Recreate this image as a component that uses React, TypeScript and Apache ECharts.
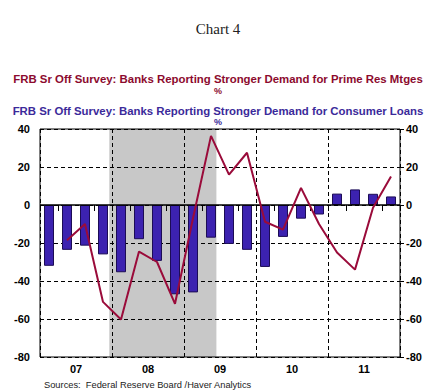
import React, { useEffect, useRef } from "react";
import * as echarts from "echarts";

const quarters = [
  "07Q1", "07Q2", "07Q3", "07Q4",
  "08Q1", "08Q2", "08Q3", "08Q4",
  "09Q1", "09Q2", "09Q3", "09Q4",
  "10Q1", "10Q2", "10Q3", "10Q4",
  "11Q1", "11Q2", "11Q3", "11Q4",
];
const yearLabels = ["07", "08", "09", "10", "11"];
const consumerLoans = [
  -32, -23.6, -21.4, -26, -35.4, -18, -29.4, -47, -46, -17.2,
  -20.5, -23.6, -32.6, -16.8, -7.2, -5, 6, 8.2, 5.9, 4.5,
];
const primeMortgages = [
  null, -18.6, -10, -51, -60.3, -24.5, -30, -52, -7, 36.4,
  16, 27.5, -8.8, -13, 9, -10, -25, -34, -1.4, 15,
];
// recession shading, in quarters from 2007Q1
const recession = [3.85, 9.8];
const yTicks = [-80, -60, -40, -20, 0, 20, 40];

const RED = "#9a0b3a";
const BLUE = "#3c22b0";
const FONT = "'Liberation Sans', Arial, sans-serif";

export default function App() {
  const ref = useRef<HTMLDivElement>(null);
  useEffect(() => {
    if (!ref.current) return;
    const chart = echarts.init(ref.current, undefined, { renderer: "svg" });
    const yMin = yTicks[0];
    const yMax = yTicks[yTicks.length - 1];
    const dashed = { color: "#000", width: 1, type: [4, 3] as any };
    const axisLabelStyle = { color: "#000", fontFamily: FONT, fontWeight: "bold" as const, fontSize: 11 };
    chart.setOption({
      animation: false,
      backgroundColor: "#fff",
      title: [
        {
          text: "Chart 4",
          left: "center",
          top: 16,
          textStyle: { fontFamily: "'Liberation Serif', 'DejaVu Serif', serif", fontWeight: "normal", fontSize: 15, color: "#222" },
        },
        {
          text: "FRB Sr Off Survey: Banks Reporting Stronger Demand for Prime Res Mtges",
          left: "center",
          top: 68,
          textStyle: { fontFamily: FONT, fontWeight: "bold", fontSize: 11.4, color: "#8c0a2e" },
        },
        {
          text: "%",
          left: "center",
          top: 81,
          textStyle: { fontFamily: FONT, fontWeight: "bold", fontSize: 9, color: "#8c0a2e" },
        },
        {
          text: "FRB Sr Off Survey: Banks Reporting Stronger Demand for Consumer Loans",
          left: "center",
          top: 100,
          textStyle: { fontFamily: FONT, fontWeight: "bold", fontSize: 11.4, color: "#3b2a9a" },
        },
        {
          text: "%",
          left: "center",
          top: 112,
          textStyle: { fontFamily: FONT, fontWeight: "bold", fontSize: 9, color: "#3b2a9a" },
        },
        {
          text: "Sources:  Federal Reserve Board /Haver Analytics",
          left: 39,
          top: 375,
          textStyle: { fontFamily: FONT, fontWeight: "normal", fontSize: 9.3, color: "#222" },
        },
      ],
      grid: {
        left: 40,
        right: 36,
        top: 129,
        bottom: 35,
        show: true,
        borderColor: "#000",
        borderWidth: 1,
        backgroundColor: "transparent",
      },
      xAxis: [
        {
          type: "category",
          data: quarters,
          boundaryGap: true,
          position: "bottom",
          axisLine: { show: false },
          axisTick: {
            show: true,
            length: 6,
            lineStyle: { color: "#000" },
            interval: (i: number) => i % 4 !== 2,
          },
          axisLabel: { show: false },
          splitLine: { show: false },
        },
        {
          type: "category",
          data: yearLabels,
          boundaryGap: true,
          position: "bottom",
          axisLine: { show: false },
          axisTick: { show: false },
          axisLabel: { ...axisLabelStyle, margin: 6, interval: 0 },
          splitLine: { show: true, interval: 0, lineStyle: dashed },
        },
        { type: "value", min: 0, max: quarters.length, show: false },
      ],
      yAxis: [
        {
          type: "value",
          min: yMin,
          max: yMax,
          interval: 20,
          position: "left",
          axisLine: { show: false },
          axisTick: { show: false },
          axisLabel: { ...axisLabelStyle, margin: 10 },
          splitLine: { show: true, lineStyle: dashed },
        },
        {
          type: "value",
          min: yMin,
          max: yMax,
          interval: 20,
          position: "right",
          axisLine: { show: false },
          axisTick: { show: true, length: 4, lineStyle: { color: "#000" } },
          axisLabel: { ...axisLabelStyle, margin: 6 },
          splitLine: { show: false },
        },
      ],
      series: [
        {
          type: "line",
          xAxisIndex: 2,
          yAxisIndex: 0,
          data: [],
          z: -1,
          silent: true,
          markArea: {
            z: -1,
            silent: true,
            itemStyle: { color: "#c8c8c8", opacity: 1 },
            data: [[{ xAxis: recession[0] }, { xAxis: recession[1] }]],
          },
        },
        {
          type: "bar",
          name: "Consumer Loans",
          xAxisIndex: 0,
          yAxisIndex: 0,
          data: consumerLoans,
          barWidth: 10,
          itemStyle: { color: BLUE, borderColor: "#1c0c55", borderWidth: 1 },
          markLine: {
            silent: true,
            symbol: "none",
            label: { show: false },
            lineStyle: { color: "#000", width: 1.5, type: "solid" },
            data: [{ yAxis: 0 }],
          },
        },
        {
          type: "line",
          name: "Prime Res Mtges",
          xAxisIndex: 0,
          yAxisIndex: 0,
          data: primeMortgages,
          symbol: "none",
          connectNulls: false,
          lineStyle: { color: RED, width: 2 },
          itemStyle: { color: RED },
          z: 5,
        },
      ],
    });
    return () => chart.dispose();
  }, []);
  return <div ref={ref} style={{ width: 436, height: 392, position: "absolute", left: 0, top: 0 }} />;
}
